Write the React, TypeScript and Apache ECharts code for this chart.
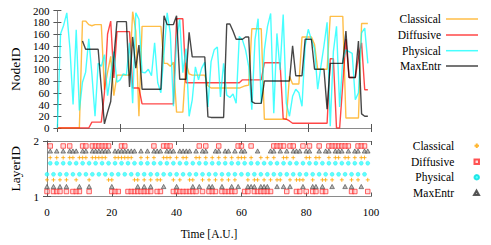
import React, { useEffect, useRef } from 'react';
import * as echarts from 'echarts';

const SERIES_NAMES = ['Classical', 'Diffusive', 'Physical', 'MaxEntr'];

// NodeID per time step (t = 0..99)
const CLASSICAL_NODE = [
  0, 0, 0, 0, 0, 0, 0, 0, 182, 182, 176, 174, 176, 176, 176, 65, 95, 122, 55, 90,
  90, 90, 90, 90, 198, 165, 20, 173, 173, 173, 173, 173, 173, 173, 110, 110, 105, 112, 27, 27,
  27, 111, 92, 90, 90, 90, 90, 90, 72, 68, 68, 68, 68, 68, 68, 68, 68, 68, 68, 70,
  72, 73, 169, 169, 169, 169, 15, 15, 15, 15, 15, 15, 15, 15, 88, 75, 75, 75, 155, 155,
  155, 155, 142, 100, 100, 100, 100, 190, 190, 190, 190, 190, 17, 17, 17, 17, 17, 178, 178, 178,
];
const DIFFUSIVE_NODE = [
  0, 0, 0, 0, 0, 0, 0, 0, 0, 0, 0, 10, 10, 10, 10, 60, 160, 182, 85, 164,
  164, 164, 164, 164, 68, 68, 68, 41, 41, 41, 41, 41, 41, 41, 41, 41, 41, 41, 186, 186,
  186, 77, 77, 77, 77, 77, 77, 77, 77, 77, 77, 77, 77, 77, 77, 77, 77, 77, 77, 82,
  82, 82, 82, 82, 82, 82, 111, 111, 111, 111, 111, 111, 16, 15, 12, 8, 8, 8, 8, 8,
  8, 8, 8, 8, 8, 8, 8, 118, 118, 0, 0, 75, 151, 86, 86, 86, 120, 145, 65, 65,
];
const PHYSICAL_NODE = [
  0, 160, 175, 196, 135, 40, 167, 30, 78, 95, 152, 92, 20, 110, 105, 125, 55, 90, 130, 78,
  82, 92, 90, 145, 42, 196, 185, 95, 94, 100, 89, 145, 77, 60, 128, 196, 162, 37, 151, 185,
  94, 135, 20, 48, 104, 82, 102, 112, 36, 113, 133, 138, 53, 110, 56, 52, 58, 42, 156, 150,
  133, 105, 31, 150, 186, 42, 133, 173, 195, 25, 161, 99, 193, 42, 20, 54, 66, 60, 37, 140,
  168, 150, 135, 66, 104, 140, 180, 3, 130, 173, 36, 115, 133, 130, 127, 48, 60, 162, 170, 110,
];
const MAXENTR_NODE = [
  null, null, null, null, null, null, null, null, 148, 134, 134, 134, 134, 134, 68, 7, 27, 45, 120, 181,
  181, 181, 181, 70, 155, 102, 141, 66, 66, 66, 66, 66, 66, 66, 191, 176, 176, 176, 191, 83,
  83, 83, 163, 121, 121, 121, 121, 121, 19, 18, 18, 18, 18, 18, 177, 177, 165, 151, 151, 151,
  155, 155, 45, 42, 42, 42, 80, 80, 80, 80, 80, 80, 80, 80, 80, 140, 89, 89, 89, 151,
  151, 151, 100, 100, 100, 100, 32, 110, 110, 110, 110, 110, 165, 86, 86, 86, 148, 24, 20, 20,
];

// LayerID per time step (t = 0..99)
const CLASSICAL_LAYER = [
  1, 2, 1, 2, 1, 2, 1, 2, 2, 1, 2, 2, 2, 1, 2, 2, 2, 2, 2, 1,
  1, 2, 2, 2, 2, 2, 2, 1, 1, 2, 1, 2, 1, 2, 1, 1, 2, 2, 2, 1,
  2, 1, 2, 2, 1, 1, 2, 2, 1, 2, 1, 2, 1, 2, 1, 2, 1, 2, 1, 2,
  2, 2, 1, 2, 1, 1, 2, 1, 2, 1, 2, 1, 1, 2, 2, 1, 2, 1, 1, 1,
  2, 2, 1, 2, 2, 1, 1, 2, 1, 2, 2, 1, 2, 2, 1, 2, 1, 2, 2, 1,
];
const DIFFUSIVE_LAYER = [
  1, 2, 1, 1, 1, 2, 1, 2, 1, 1, 1, 2, 2, 1, 2, 2, 2, 2, 2, 2,
  1, 1, 1, 2, 2, 1, 1, 1, 1, 1, 1, 1, 1, 2, 1, 1, 2, 2, 2, 1,
  1, 1, 1, 1, 1, 1, 1, 2, 1, 2, 1, 1, 1, 2, 1, 1, 1, 1, 1, 2,
  2, 1, 1, 2, 1, 1, 1, 1, 1, 1, 2, 2, 2, 2, 1, 2, 2, 1, 1, 2,
  1, 2, 1, 1, 2, 1, 1, 2, 2, 2, 2, 2, 2, 2, 1, 1, 2, 2, 2, 1,
];
const PHYSICAL_LAYER = [
  1, 2, 1, 2, 1, 2, 1, 2, 1, 2, 1, 2, 1, 2, 1, 2, 1, 2, 1, 2,
  1, 2, 1, 2, 1, 2, 1, 2, 1, 2, 1, 2, 1, 2, 1, 2, 1, 2, 1, 2,
  1, 2, 1, 2, 1, 2, 1, 2, 1, 2, 1, 2, 1, 2, 1, 2, 1, 2, 1, 2,
  1, 2, 1, 2, 1, 2, 1, 2, 1, 2, 1, 2, 1, 2, 1, 2, 1, 2, 1, 2,
  1, 2, 1, 2, 1, 2, 1, 2, 1, 2, 1, 2, 1, 2, 1, 2, 1, 2, 1, 2,
];
const MAXENTR_LAYER = [
  1, 2, 1, 2, 1, 2, 1, 2, 2, 2, 1, 2, 2, 1, 2, 2, 2, 2, 2, 2,
  1, 2, 2, 2, 2, 2, 2, 2, 1, 2, 1, 2, 1, 2, 2, 2, 1, 2, 2, 2,
  1, 2, 2, 2, 2, 1, 2, 1, 2, 2, 1, 1, 2, 2, 1, 2, 2, 1, 2, 1,
  2, 2, 1, 1, 1, 2, 1, 1, 1, 2, 2, 1, 2, 1, 2, 1, 2, 2, 2, 1,
  2, 2, 1, 1, 2, 1, 2, 2, 1, 2, 2, 2, 1, 2, 1, 2, 2, 1, 2, 2,
];

const X_TICKS = [0, 20, 40, 60, 80, 100];

const NODE_DATA = [CLASSICAL_NODE, DIFFUSIVE_NODE, PHYSICAL_NODE, MAXENTR_NODE];
const LAYER_DATA = [CLASSICAL_LAYER, DIFFUSIVE_LAYER, PHYSICAL_LAYER, MAXENTR_LAYER];

// styling
const LINE_COLORS = ['#FFA500', '#FF0000', '#00FFFF', '#000000'];
const ROW_OFFSET = [0.3, 0.09, 0.4, 0.18];
const SERIF = 'Liberation Serif';
const FRAME = '#8a8a8a';
const TICK = '#555';
const PLUS = 'path://M0,5L10,5M5,0L5,10';
const SQUARE = 'path://M0,0H10V10H0Z';
const TRI = 'path://M5,0L10,9H0Z';
const LINE_ICON = 'path://M0,0H32V1.5H0Z';

export default function App() {
  const ref = useRef<HTMLDivElement>(null);
  useEffect(() => {
    const chart = echarts.init(ref.current!, null, { renderer: 'svg' });
    const left = 42;
    const width = 329;
    const g0 = { top: 10.5, height: 117.5 };
    const g1 = { top: 141, height: 55.5 };

    const xBase = (gridIndex: number, position: string, labels: boolean, extra: any = {}) => ({
      type: 'value',
      gridIndex,
      position,
      min: X_TICKS[0],
      max: X_TICKS[X_TICKS.length - 1],
      interval: X_TICKS[1] - X_TICKS[0],
      axisLine: { show: true, lineStyle: { color: FRAME, width: 1 } },
      axisTick: { show: true, inside: true, length: 4, lineStyle: { color: TICK } },
      axisLabel: { show: labels, fontFamily: SERIF, fontSize: 11, color: '#000', margin: 10 },
      splitLine: { show: false },
      ...extra,
    });
    const yBase = (gridIndex: number, position: string, labels: boolean, min: number, max: number, interval: number, extra: any = {}) => ({
      type: 'value',
      gridIndex,
      position,
      min,
      max,
      interval,
      axisLine: { show: true, lineStyle: { color: FRAME, width: 1 } },
      axisTick: { show: true, inside: true, length: 4, lineStyle: { color: TICK } },
      axisLabel: { show: labels, fontFamily: SERIF, fontSize: 11, color: '#000', margin: 8 },
      splitLine: { show: false },
      ...extra,
    });

    const lineSeries = SERIES_NAMES.map((name, k) => ({
      type: 'line',
      name,
      xAxisIndex: 0,
      yAxisIndex: 0,
      data: NODE_DATA[k].map((v, i) => [i, v]),
      symbol: 'none',
      connectNulls: false,
      lineStyle: { color: LINE_COLORS[k], width: 1.4, opacity: 0.72 },
      itemStyle: { color: LINE_COLORS[k], opacity: 0.72 },
      z: 2 + k,
    }));

    const scatterStyles: any[] = [
      { symbol: PLUS, symbolSize: 4, itemStyle: { color: '#FFA500', borderColor: '#FFA500', borderWidth: 1 } },
      { symbol: 'rect', symbolSize: 4.5, itemStyle: { color: 'rgba(255,170,170,0.5)', borderColor: '#ff2a2a', borderWidth: 0.9 } },
      { symbol: 'circle', symbolSize: 4, itemStyle: { color: '#33ffff', borderColor: '#00e0e0', borderWidth: 0.4 } },
      { symbol: 'triangle', symbolSize: [4.6, 4.2], itemStyle: { color: '#a8a8a8', borderColor: '#333', borderWidth: 0.7 } },
    ];
    const legendSymbols = [PLUS, SQUARE, 'circle', TRI];

    const scatterSeries = SERIES_NAMES.map((name, k) => ({
      type: 'scatter',
      name: name + '#layer',
      xAxisIndex: 2,
      yAxisIndex: 2,
      data: LAYER_DATA[k].map((l, i) => [i, l === 2 ? 2 - ROW_OFFSET[k] : 1 + ROW_OFFSET[k]]),
      ...scatterStyles[k],
      z: 2 + k,
    }));

    const topRows = [19, 35, 50.7, 66];
    const botRows = [145.7, 161.7, 177.3, 192.7];
    const legendText = { fontFamily: SERIF, fontSize: 11.5, color: '#000', lineHeight: 12 };
    const legends: any[] = [];
    SERIES_NAMES.forEach((name, k) => {
      legends.push({
        show: true,
        orient: 'horizontal',
        right: 13,
        top: topRows[k] - 6,
        padding: 0,
        itemWidth: 32,
        itemHeight: 12,
        align: 'right',
        selectedMode: false,
        symbolKeepAspect: true,
        data: [{ name, icon: LINE_ICON }],
        textStyle: legendText,
      });
    });
    SERIES_NAMES.forEach((name, k) => {
      legends.push({
        show: true,
        orient: 'horizontal',
        right: 11,
        top: botRows[k] - 6,
        padding: 0,
        itemWidth: 35,
        itemHeight: 4.5,
        align: 'right',
        selectedMode: false,
        symbolKeepAspect: true,
        data: [{ name: name + '#layer', icon: legendSymbols[k] }],
        formatter: (n: string) => n.split('#')[0],
        textStyle: legendText,
      });
    });

    const option: any = {
      animation: false,
      backgroundColor: '#fff',
      grid: [
        { left, width, top: g0.top, height: g0.height },
        { left, width, top: g1.top, height: g1.height },
      ],
      xAxis: [
        xBase(0, 'bottom', false),
        xBase(0, 'top', false),
        xBase(1, 'bottom', true, {
          name: 'Time [A.U.]',
          nameLocation: 'middle',
          nameGap: 31,
          nameTextStyle: { fontFamily: SERIF, fontSize: 11.5, color: '#000' },
        }),
        xBase(1, 'top', false),
      ],
      yAxis: [
        yBase(0, 'left', true, 0, 200, 20, {
          name: 'NodeID',
          nameLocation: 'middle',
          nameGap: 25,
          nameTextStyle: { fontFamily: SERIF, fontSize: 13.5, color: '#000' },
        }),
        yBase(0, 'right', false, 0, 200, 20),
        yBase(1, 'left', true, 1, 2, 1, {
          name: 'LayerID',
          nameLocation: 'middle',
          nameGap: 25,
          nameTextStyle: { fontFamily: SERIF, fontSize: 13.5, color: '#000' },
        }),
        yBase(1, 'right', false, 1, 2, 1),
      ],
      legend: legends,
      series: [...lineSeries, ...scatterSeries],
    };
    chart.setOption(option);
    return () => chart.dispose();
  }, []);
  return <div ref={ref} style={{ position: 'fixed', left: 0, top: 0, width: 491, height: 245 }} />;
}
